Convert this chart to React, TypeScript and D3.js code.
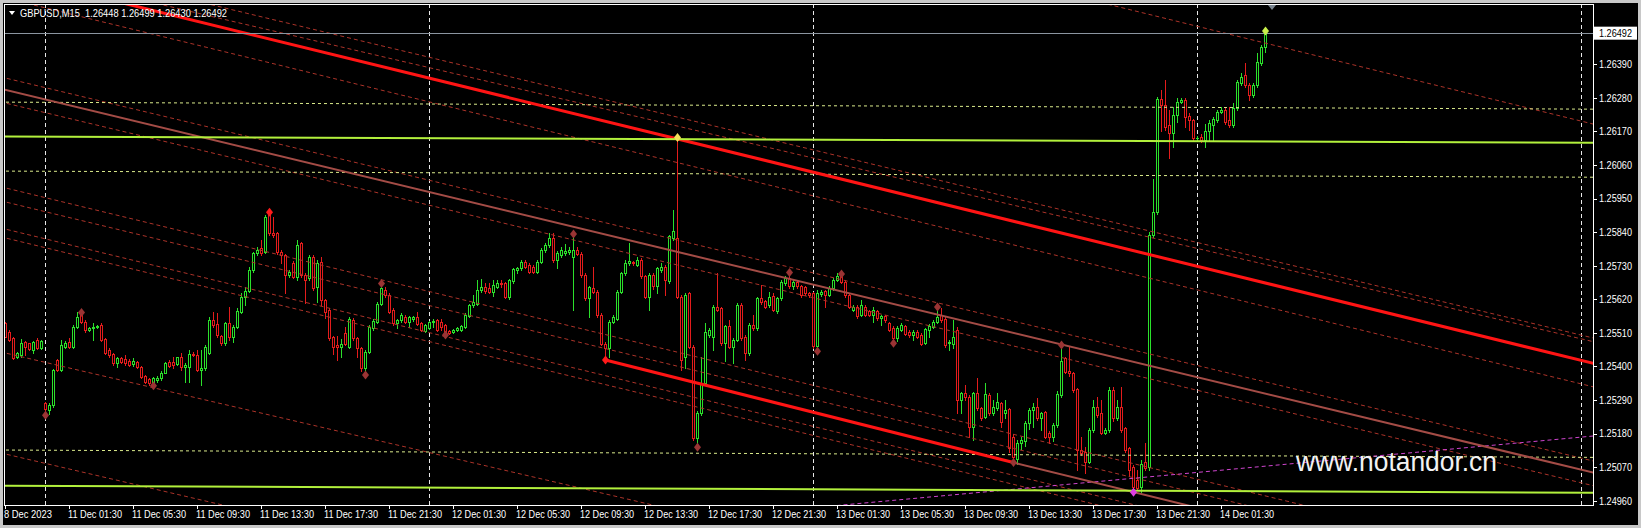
import React from "react";
import * as d3 from "d3";

const symbolName = "GBPUSD,M15";

// 15-minute bars, 8 Dec 2023 21:30 .. 14 Dec 2023 04:15 (broker time)
const opens = [
  1.25541,1.25514,1.25492,1.25432,1.25437,1.25481,1.25476,1.25454,1.25487,1.25459,
  1.25280,1.25257,1.25274,1.25421,1.25388,1.25465,1.25481,1.25465,1.25530,1.25574,
  1.25547,1.25519,1.25525,1.25530,1.25536,1.25489,1.25454,1.25441,1.25410,1.25427,
  1.25423,1.25419,1.25408,1.25416,1.25399,1.25369,1.25359,1.25350,1.25356,1.25361,
  1.25380,1.25416,1.25416,1.25408,1.25432,1.25397,1.25399,1.25441,1.25437,1.25388,
  1.25394,1.25443,1.25552,1.25539,1.25500,1.25478,1.25541,1.25498,1.25530,1.25579,
  1.25627,1.25648,1.25716,1.25771,1.25787,1.25776,1.25896,1.25838,1.25836,1.25776,
  1.25765,1.25700,1.25738,1.25694,1.25803,1.25700,1.25689,1.25760,1.25660,1.25743,
  1.25617,1.25585,1.25497,1.25470,1.25465,1.25508,1.25465,1.25552,1.25492,1.25459,
  1.25394,1.25448,1.25525,1.25546,1.25606,1.25650,1.25634,1.25585,1.25541,1.25552,
  1.25563,1.25546,1.25556,1.25563,1.25541,1.25517,1.25526,1.25544,1.25552,1.25545,
  1.25535,1.25515,1.25514,1.25519,1.25519,1.25530,1.25566,1.25601,1.25606,1.25650,
  1.25661,1.25658,1.25645,1.25661,1.25675,1.25672,1.25628,1.25680,1.25716,1.25721,
  1.25743,1.25732,1.25727,1.25710,1.25743,1.25781,1.25798,1.25820,1.25748,1.25765,
  1.25773,1.25774,1.25759,1.25781,1.25770,1.25700,1.25623,1.25656,1.25645,1.25568,
  1.25475,1.25459,1.25546,1.25557,1.25645,1.25705,1.25738,1.25741,1.25733,1.25749,
  1.25695,1.25629,1.25700,1.25662,1.25716,1.25727,1.25679,1.25820,1.25820,1.25629,
  1.25432,1.25640,1.25465,1.25165,1.25247,1.25345,1.25504,1.25498,1.25596,1.25590,
  1.25476,1.25531,1.25465,1.25487,1.25602,1.25498,1.25443,1.25536,1.25525,1.25624,
  1.25613,1.25602,1.25632,1.25580,1.25624,1.25673,1.25689,1.25662,1.25678,1.25662,
  1.25660,1.25640,1.25640,1.25467,1.25636,1.25646,1.25635,1.25657,1.25684,1.25695,
  1.25678,1.25635,1.25585,1.25596,1.25569,1.25596,1.25580,1.25569,1.25580,1.25558,
  1.25564,1.25542,1.25525,1.25493,1.25520,1.25531,1.25514,1.25504,1.25514,1.25503,
  1.25478,1.25519,1.25530,1.25547,1.25568,1.25557,1.25478,1.25475,1.25519,1.25290,
  1.25312,1.25301,1.25203,1.25312,1.25263,1.25235,1.25306,1.25246,1.25263,1.25279,
  1.25246,1.25260,1.25170,1.25098,1.25150,1.25154,1.25214,1.25257,1.25268,1.25230,
  1.25250,1.25181,1.25170,1.25208,1.25306,1.25426,1.25386,1.25377,1.25325,1.25126,
  1.25120,1.25088,1.25192,1.25268,1.25246,1.25183,1.25192,1.25323,1.25230,1.25268,
  1.25197,1.25132,1.25071,1.25028,1.25006,1.25088,1.25072,1.25831,1.25907,1.26276,
  1.26257,1.26191,1.26164,1.26224,1.26268,1.26273,1.26220,1.26207,1.26148,1.26153,
  1.26142,1.26170,1.26191,1.26207,1.26235,1.26240,1.26207,1.26191,1.26246,1.26328,
  1.26355,1.26322,1.26290,1.26322,1.26393,1.26448,
];

const highs = [
  1.25547,1.25520,1.25495,1.25446,1.25490,1.25484,1.25478,1.25484,1.25492,1.25487,
  1.25285,1.25280,1.25392,1.25425,1.25487,1.25484,1.25492,1.25535,1.25579,1.25583,
  1.25552,1.25528,1.25541,1.25536,1.25541,1.25492,1.25459,1.25443,1.25432,1.25432,
  1.25437,1.25423,1.25427,1.25419,1.25401,1.25371,1.25361,1.25366,1.25369,1.25385,
  1.25416,1.25421,1.25430,1.25432,1.25443,1.25410,1.25454,1.25446,1.25454,1.25454,
  1.25470,1.25563,1.25579,1.25574,1.25503,1.25547,1.25596,1.25536,1.25590,1.25640,
  1.25660,1.25727,1.25776,1.25792,1.25814,1.25895,1.25912,1.25891,1.25840,1.25781,
  1.25770,1.25716,1.25745,1.25814,1.25809,1.25705,1.25765,1.25765,1.25749,1.25760,
  1.25620,1.25590,1.25500,1.25500,1.25490,1.25530,1.25563,1.25558,1.25497,1.25465,
  1.25454,1.25535,1.25555,1.25612,1.25672,1.25660,1.25639,1.25590,1.25557,1.25574,
  1.25568,1.25566,1.25566,1.25579,1.25545,1.25540,1.25550,1.25556,1.25556,1.25556,
  1.25540,1.25520,1.25524,1.25530,1.25537,1.25574,1.25606,1.25634,1.25683,1.25686,
  1.25672,1.25672,1.25683,1.25683,1.25683,1.25677,1.25688,1.25722,1.25727,1.25748,
  1.25748,1.25738,1.25732,1.25748,1.25787,1.25803,1.25836,1.25836,1.25778,1.25790,
  1.25800,1.25790,1.25836,1.25790,1.25775,1.25705,1.25665,1.25727,1.25650,1.25574,
  1.25480,1.25552,1.25568,1.25650,1.25710,1.25748,1.25804,1.25745,1.25760,1.25755,
  1.25700,1.25705,1.25705,1.25727,1.25738,1.25732,1.25830,1.25913,1.26153,1.25635,
  1.25640,1.25645,1.25470,1.25255,1.25432,1.25542,1.25525,1.25600,1.25705,1.25595,
  1.25536,1.25553,1.25492,1.25607,1.25607,1.25503,1.25542,1.25569,1.25629,1.25667,
  1.25618,1.25645,1.25640,1.25629,1.25684,1.25695,1.25708,1.25684,1.25684,1.25667,
  1.25665,1.25645,1.25645,1.25650,1.25650,1.25651,1.25662,1.25689,1.25705,1.25705,
  1.25684,1.25640,1.25602,1.25602,1.25618,1.25602,1.25585,1.25596,1.25585,1.25569,
  1.25569,1.25547,1.25531,1.25531,1.25542,1.25536,1.25520,1.25520,1.25520,1.25508,
  1.25526,1.25540,1.25552,1.25595,1.25590,1.25563,1.25485,1.25552,1.25530,1.25317,
  1.25340,1.25306,1.25317,1.25361,1.25268,1.25345,1.25312,1.25290,1.25312,1.25285,
  1.25290,1.25265,1.25180,1.25160,1.25170,1.25220,1.25263,1.25280,1.25295,1.25252,
  1.25255,1.25190,1.25214,1.25320,1.25470,1.25430,1.25465,1.25383,1.25330,1.25170,
  1.25137,1.25198,1.25290,1.25301,1.25290,1.25198,1.25334,1.25334,1.25290,1.25334,
  1.25203,1.25137,1.25077,1.25060,1.25093,1.25150,1.25840,1.26013,1.26282,1.26306,
  1.26338,1.26240,1.26251,1.26279,1.26279,1.26279,1.26229,1.26212,1.26155,1.26160,
  1.26196,1.26207,1.26218,1.26240,1.26251,1.26251,1.26251,1.26262,1.26338,1.26360,
  1.26393,1.26328,1.26328,1.26426,1.26453,1.26499,
];

const lows = [
  1.25495,1.25484,1.25423,1.25428,1.25432,1.25437,1.25454,1.25443,1.25456,1.25456,
  1.25240,1.25245,1.25268,1.25385,1.25385,1.25462,1.25462,1.25462,1.25525,1.25541,
  1.25514,1.25515,1.25487,1.25525,1.25484,1.25440,1.25432,1.25405,1.25399,1.25412,
  1.25405,1.25401,1.25401,1.25394,1.25363,1.25345,1.25339,1.25337,1.25350,1.25356,
  1.25377,1.25397,1.25394,1.25405,1.25388,1.25350,1.25350,1.25435,1.25385,1.25339,
  1.25388,1.25440,1.25530,1.25498,1.25470,1.25470,1.25487,1.25481,1.25525,1.25574,
  1.25600,1.25645,1.25710,1.25765,1.25765,1.25771,1.25830,1.25825,1.25770,1.25738,
  1.25639,1.25694,1.25689,1.25683,1.25694,1.25607,1.25683,1.25650,1.25610,1.25600,
  1.25560,1.25486,1.25440,1.25421,1.25430,1.25470,1.25460,1.25486,1.25430,1.25385,
  1.25372,1.25443,1.25520,1.25541,1.25600,1.25628,1.25574,1.25536,1.25525,1.25546,
  1.25541,1.25530,1.25550,1.25535,1.25515,1.25512,1.25522,1.25530,1.25515,1.25519,
  1.25503,1.25505,1.25510,1.25515,1.25515,1.25525,1.25561,1.25596,1.25601,1.25645,
  1.25640,1.25640,1.25630,1.25656,1.25660,1.25623,1.25622,1.25675,1.25705,1.25716,
  1.25722,1.25705,1.25705,1.25705,1.25738,1.25776,1.25792,1.25743,1.25721,1.25759,
  1.25765,1.25770,1.25585,1.25765,1.25694,1.25618,1.25563,1.25640,1.25563,1.25470,
  1.25421,1.25432,1.25541,1.25552,1.25640,1.25700,1.25732,1.25733,1.25730,1.25690,
  1.25625,1.25585,1.25655,1.25640,1.25710,1.25635,1.25673,1.25815,1.25625,1.25389,
  1.25395,1.25460,1.25160,1.25135,1.25240,1.25340,1.25498,1.25454,1.25580,1.25470,
  1.25417,1.25460,1.25411,1.25482,1.25488,1.25422,1.25438,1.25520,1.25520,1.25605,
  1.25590,1.25596,1.25580,1.25575,1.25618,1.25668,1.25656,1.25655,1.25656,1.25629,
  1.25635,1.25628,1.25462,1.25450,1.25630,1.25596,1.25630,1.25652,1.25680,1.25673,
  1.25629,1.25590,1.25580,1.25558,1.25564,1.25564,1.25564,1.25547,1.25553,1.25536,
  1.25547,1.25515,1.25476,1.25482,1.25515,1.25502,1.25498,1.25487,1.25493,1.25470,
  1.25473,1.25498,1.25525,1.25541,1.25547,1.25465,1.25455,1.25460,1.25246,1.25246,
  1.25290,1.25170,1.25159,1.25257,1.25224,1.25230,1.25240,1.25240,1.25257,1.25200,
  1.25230,1.25120,1.25085,1.25080,1.25130,1.25140,1.25195,1.25200,1.25224,1.25192,
  1.25165,1.25150,1.25154,1.25200,1.25300,1.25377,1.25370,1.25317,1.25060,1.25110,
  1.25050,1.25082,1.25186,1.25235,1.25178,1.25178,1.25186,1.25220,1.25224,1.25186,
  1.25120,1.25040,1.24988,1.24995,1.24990,1.25060,1.25060,1.25825,1.25900,1.26173,
  1.26175,1.26082,1.26120,1.26200,1.26262,1.26186,1.26175,1.26142,1.26140,1.26135,
  1.26120,1.26142,1.26142,1.26200,1.26229,1.26196,1.26186,1.26186,1.26240,1.26322,
  1.26317,1.26273,1.26284,1.26317,1.26388,1.26430,
];

const closes = [
  1.25498,1.25487,1.25427,1.25443,1.25476,1.25465,1.25456,1.25481,1.25459,1.25484,
  1.25262,1.25274,1.25388,1.25388,1.25470,1.25478,1.25465,1.25530,1.25563,1.25547,
  1.25519,1.25525,1.25530,1.25533,1.25487,1.25443,1.25437,1.25410,1.25427,1.25416,
  1.25410,1.25405,1.25419,1.25399,1.25366,1.25350,1.25345,1.25361,1.25363,1.25380,
  1.25412,1.25401,1.25405,1.25430,1.25399,1.25405,1.25441,1.25438,1.25388,1.25394,
  1.25465,1.25552,1.25536,1.25503,1.25476,1.25543,1.25498,1.25530,1.25583,1.25629,
  1.25648,1.25716,1.25771,1.25781,1.25771,1.25891,1.25836,1.25831,1.25776,1.25765,
  1.25700,1.25710,1.25694,1.25798,1.25700,1.25683,1.25760,1.25656,1.25738,1.25617,
  1.25579,1.25492,1.25465,1.25465,1.25475,1.25475,1.25557,1.25492,1.25459,1.25394,
  1.25448,1.25530,1.25550,1.25606,1.25656,1.25634,1.25579,1.25541,1.25552,1.25568,
  1.25546,1.25561,1.25563,1.25539,1.25519,1.25535,1.25546,1.25550,1.25519,1.25530,
  1.25508,1.25510,1.25519,1.25527,1.25532,1.25568,1.25601,1.25612,1.25652,1.25661,
  1.25647,1.25645,1.25667,1.25672,1.25670,1.25628,1.25683,1.25718,1.25721,1.25743,
  1.25727,1.25710,1.25710,1.25743,1.25781,1.25798,1.25820,1.25748,1.25773,1.25781,
  1.25778,1.25781,1.25781,1.25770,1.25700,1.25623,1.25659,1.25645,1.25568,1.25475,
  1.25459,1.25546,1.25563,1.25645,1.25705,1.25738,1.25744,1.25738,1.25749,1.25695,
  1.25629,1.25700,1.25662,1.25722,1.25727,1.25684,1.25826,1.25845,1.25629,1.25422,
  1.25633,1.25465,1.25165,1.25247,1.25345,1.25514,1.25520,1.25596,1.25585,1.25476,
  1.25531,1.25465,1.25487,1.25602,1.25493,1.25443,1.25536,1.25525,1.25624,1.25610,
  1.25596,1.25629,1.25585,1.25624,1.25678,1.25689,1.25662,1.25678,1.25662,1.25635,
  1.25640,1.25633,1.25467,1.25640,1.25644,1.25635,1.25657,1.25684,1.25695,1.25678,
  1.25635,1.25596,1.25596,1.25564,1.25602,1.25569,1.25569,1.25585,1.25558,1.25564,
  1.25553,1.25520,1.25493,1.25525,1.25536,1.25507,1.25504,1.25514,1.25498,1.25475,
  1.25521,1.25532,1.25547,1.25561,1.25552,1.25470,1.25480,1.25495,1.25290,1.25312,
  1.25301,1.25203,1.25312,1.25263,1.25230,1.25310,1.25246,1.25268,1.25282,1.25219,
  1.25257,1.25132,1.25104,1.25150,1.25159,1.25214,1.25257,1.25268,1.25230,1.25246,
  1.25170,1.25170,1.25208,1.25310,1.25419,1.25383,1.25377,1.25323,1.25126,1.25115,
  1.25088,1.25192,1.25268,1.25241,1.25183,1.25192,1.25323,1.25230,1.25268,1.25192,
  1.25126,1.25060,1.25006,1.25001,1.25080,1.25068,1.25831,1.25907,1.26276,1.26257,
  1.26186,1.26164,1.26224,1.26268,1.26273,1.26218,1.26207,1.26148,1.26150,1.26142,
  1.26170,1.26199,1.26210,1.26235,1.26240,1.26202,1.26191,1.26246,1.26333,1.26349,
  1.26322,1.26290,1.26322,1.26399,1.26448,1.26492,
];

const priceTickLabels = [
  "1.26390","1.26280","1.26170","1.26060","1.25950","1.25840","1.25730",
  "1.25620","1.25510","1.25400","1.25290","1.25180","1.25070","1.24960",
];

const timeTickLabels = [
  "8 Dec 2023","11 Dec 01:30","11 Dec 05:30","11 Dec 09:30","11 Dec 13:30","11 Dec 17:30","11 Dec 21:30",
  "12 Dec 01:30","12 Dec 05:30","12 Dec 09:30","12 Dec 13:30","12 Dec 17:30","12 Dec 21:30",
  "13 Dec 01:30","13 Dec 05:30","13 Dec 09:30","13 Dec 13:30","13 Dec 17:30","13 Dec 21:30","14 Dec 01:30",
];
const timeTickBars = [0,16,32,48,64,80,96,112,128,144,160,176,192,208,224,240,256,272,288,304];

// day separators (00:00 of 11, 12, 13, 14, 15 Dec)
const daySeparatorBars = [10, 106, 202, 298, 394];

// Trend objects: [bar, price] anchors
type Anchor = [number, number];
type TLine = { from: Anchor; to: Anchor; extend: boolean };

const thickRedLines: TLine[] = [
  { from: [0, 1.26685], to: [397, 1.2541], extend: true },
  { from: [150, 1.25421], to: [252, 1.25085], extend: false },
];
const brownLines: TLine[] = [
  { from: [0, 1.26306], to: [397, 1.25052], extend: true },
  { from: [252, 1.25085], to: [397, 1.24618], extend: false },
];
const dashedRedLines: TLine[] = [
  { from: [0, 1.27479], to: [397, 1.26194], extend: true },
  { from: [0, 1.26748], to: [397, 1.25493], extend: true },
  { from: [0, 1.26706], to: [397, 1.25481], extend: true },
  { from: [0, 1.26607], to: [397, 1.25333], extend: true },
  { from: [0, 1.26345], to: [397, 1.2509], extend: true },
  { from: [0, 1.26263], to: [397, 1.25009], extend: true },
  { from: [0, 1.25985], to: [397, 1.24713], extend: true },
  { from: [0, 1.25939], to: [397, 1.24667], extend: true },
  { from: [0, 1.2585], to: [397, 1.24579], extend: true },
  { from: [0, 1.25821], to: [397, 1.24549], extend: true },
  { from: [0, 1.25444], to: [397, 1.24222], extend: true },
  { from: [0, 1.25113], to: [397, 1.23891], extend: true },
];
const limeLevels: TLine[] = [
  { from: [0, 1.26153], to: [397, 1.26133], extend: true },
  { from: [0, 1.25009], to: [397, 1.24986], extend: true },
];
const yellowDashLevels: TLine[] = [
  { from: [0, 1.26266], to: [397, 1.26243], extend: true },
  { from: [0, 1.2604], to: [397, 1.2602], extend: true },
  { from: [0, 1.25126], to: [397, 1.25102], extend: true },
];
const magentaLines: TLine[] = [
  { from: [209.4, 1.24946], to: [397, 1.25172], extend: true },
];

// anchor markers: [bar, price, kind]
const markerBars = [10, 19, 37, 66, 90, 94, 110, 142, 150, 168, 173, 196, 203, 209, 222, 233, 252, 264, 282, 315];
const markerPrices = [
  1.2524, 1.25577, 1.25337, 1.25905, 1.25372, 1.25672, 1.25503, 1.25834, 1.25421, 1.26150,
  1.25135, 1.25708, 1.2545, 1.25703, 1.25476, 1.25595, 1.25085, 1.2547, 1.24988, 1.26499,
];
const markerKinds = [
  "dark","dark","dark","red","dark","dark","dark","dark","red","yellow",
  "dark","dark","dark","dark","dark","dark","dark","dark","magenta","lime",
];

const markerColors: Record<string, string> = {
  dark: "#9a3434",
  red: "#ff1a1a",
  yellow: "#f2e25a",
  magenta: "#e040e0",
  lime: "#c8f04a",
};

const W = 1641;
const H = 528;
const PL = 4, PT = 4, PR = 1593, PB = 505;
const FONT = "'Liberation Sans', Arial, sans-serif";

export default function App() {
  const x = d3.scaleLinear().domain([0, 397]).range([5.4, 1593.4]);
  const y = d3.scaleLinear().domain([1.2496, 1.2639]).range([500.7, 64.3]);

  const seg = (l: TLine) => {
    const x1 = x(l.from[0]), y1 = y(l.from[1]), x2 = x(l.to[0]), y2 = y(l.to[1]);
    if (!l.extend) return [x1, y1, x2, y2];
    const s = (y2 - y1) / (x2 - x1);
    return [0, y1 + s * (0 - x1), 1640, y1 + s * (1640 - x1)];
  };

  const drawLines = (lines: TLine[], stroke: string, width: number, dash?: string, key = "") =>
    lines.map((l, k) => {
      const [a, b, c, d] = seg(l);
      return (
        <line key={key + k} x1={a} y1={b} x2={c} y2={d} stroke={stroke}
          strokeWidth={width} strokeDasharray={dash} />
      );
    });

  const n = closes.length;
  const last = n - 1;
  const header = `${symbolName}  ${opens[last].toFixed(5)} ${highs[last].toFixed(5)} ${lows[last].toFixed(5)} ${closes[last].toFixed(5)}`;
  const bidY = Math.floor(y(closes[last])) + 0.5;

  const candles = d3.range(n).map((i) => {
    const o = opens[i], h = highs[i], l = lows[i], c = closes[i];
    const up = c >= o;
    const col = up ? "#2be02b" : "#e41c1c";
    const cx = Math.floor(x(i)) + 0.5;
    const yo = Math.round(y(o)), yc = Math.round(y(c));
    const yh = Math.round(y(h)), yl = Math.round(y(l));
    const top = Math.min(yo, yc), bot = Math.max(yo, yc);
    return (
      <g key={i}>
        <line x1={cx} x2={cx} y1={yh} y2={yl + 1} stroke={col} strokeWidth={1} />
        {bot - top >= 1 ? (
          <rect x={cx - 1} y={top + 0.5} width={2} height={bot - top} fill="#000" stroke={col} strokeWidth={1} />
        ) : (
          <line x1={cx - 1.5} x2={cx + 1.5} y1={top + 0.5} y2={top + 0.5} stroke={col} strokeWidth={1} />
        )}
      </g>
    );
  });

  return (
    <svg width={W} height={H} style={{ position: "absolute", left: 0, top: 0, display: "block" }}
      shapeRendering="auto">
      <defs>
        <clipPath id="plotClip">
          <rect x={PL + 1} y={PT + 1} width={PR - PL - 1} height={PB - PT - 1} />
        </clipPath>
      </defs>
      <rect x={0} y={0} width={W} height={H} fill="#c8c8c8" />
      <rect x={3} y={3} width={W - 6} height={H - 6} fill="#000" />

      <g clipPath="url(#plotClip)">
        {daySeparatorBars.map((b) => {
          const xx = Math.floor(x(b)) + 0.5;
          return <line key={b} x1={xx} x2={xx} y1={PT} y2={PB} stroke="#e8e8e8" strokeWidth={1} strokeDasharray="4,3" />;
        })}
        {candles}
        {drawLines(dashedRedLines, "#ab3329", 1, "4,3", "dr")}
        {drawLines(yellowDashLevels, "#dcec8c", 1, "3,3", "yd")}
        {drawLines(magentaLines, "#cf45cf", 1, "4,3", "mg")}
        {drawLines(brownLines, "#a44c46", 2, undefined, "br")}
        {drawLines(thickRedLines, "#ff1414", 3, undefined, "tr")}
        {drawLines(limeLevels, "#b2f03c", 2, undefined, "lm")}
        <line x1={PL} x2={PR} y1={bidY} y2={bidY} stroke="#8b95a0" strokeWidth={1} />
        {markerBars.map((b, k) => {
          const cx = Math.floor(x(b)) + 0.5;
          const cy = y(markerPrices[k]);
          return (
            <polygon key={k}
              points={`${cx},${cy - 4.5} ${cx + 3.5},${cy} ${cx},${cy + 4.5} ${cx - 3.5},${cy}`}
              fill={markerColors[markerKinds[k]]} />
          );
        })}
        <polygon points="1267.5,4.5 1276.5,4.5 1272,10" fill="#7a8590" />
      </g>

      {/* frame */}
      <rect x={PL + 0.5} y={PT + 0.5} width={PR - PL} height={PB - PT} fill="none" stroke="#ffffff" strokeWidth={1} />

      {/* header */}
      <polygon points="9,11 15,11 12,15" fill="#ffffff" />
      <text x={20} y={16.5} fontFamily={FONT} fontSize={10.5} fill="#ffffff"
        style={{ whiteSpace: "pre" }} textLength={207} lengthAdjust="spacingAndGlyphs">{header}</text>

      {/* watermark */}
      <text x={1296} y={471} fontFamily={FONT} fontSize={27} fill="#f2f2f2"
        textLength={201} lengthAdjust="spacingAndGlyphs">www.notandor.cn</text>

      {/* price axis */}
      {priceTickLabels.map((t) => {
        const yy = y(+t);
        const yt = Math.round(yy) + 0.5;
        return (
          <g key={t}>
            <line x1={PR} x2={PR + 4} y1={yt} y2={yt} stroke="#ffffff" strokeWidth={1} />
            <text x={1599} y={yy + 3.8} fontFamily={FONT} fontSize={10.5} fill="#ffffff"
              textLength={33} lengthAdjust="spacingAndGlyphs">{t}</text>
          </g>
        );
      })}
      <rect x={1594} y={y(closes[last]) - 6.5} width={43} height={13} fill="#ffffff" />
      <text x={1599} y={y(closes[last]) + 3.8} fontFamily={FONT} fontSize={10.5} fill="#000000"
        textLength={33} lengthAdjust="spacingAndGlyphs">{closes[last].toFixed(5)}</text>

      {/* time axis */}
      {timeTickBars.map((b, k) => {
        const xx = Math.floor(x(b)) + 0.5;
        const label = timeTickLabels[k];
        return (
          <g key={b}>
            <line x1={xx} x2={xx} y1={PB} y2={PB + 4} stroke="#ffffff" strokeWidth={1} />
            <text x={xx - 1.5} y={518} fontFamily={FONT} fontSize={10.5} fill="#ffffff"
              textLength={k === 0 ? 48 : 54} lengthAdjust="spacingAndGlyphs">{label}</text>
          </g>
        );
      })}
    </svg>
  );
}
